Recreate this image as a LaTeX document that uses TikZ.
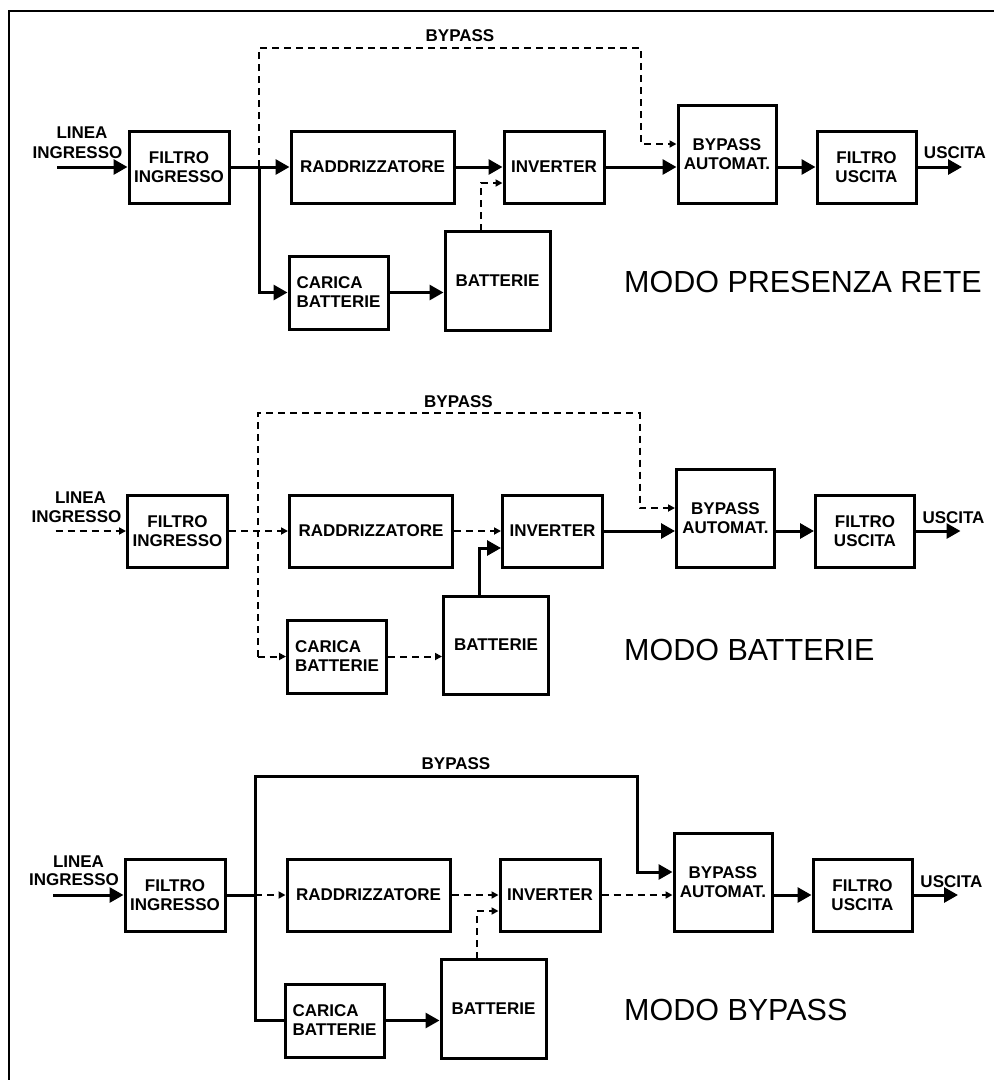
\documentclass[tikz,border=0pt]{standalone}
\usepackage{fontspec}
\setmainfont{Liberation Sans}
\usetikzlibrary{arrows.meta}
\tikzset{
  blk/.style={draw, line width=3pt, inner sep=0pt, align=center,
    font=\fontsize{17}{19}\selectfont\bfseries},
  lbl/.style={inner sep=0pt, font=\fontsize{17}{19}\selectfont\bfseries},
  mode/.style={inner sep=0pt, anchor=west, font=\fontsize{30.5}{34}\selectfont},
  sol/.style={line width=3pt},
  dsh/.style={line width=2pt, dash pattern=on 7pt off 5pt},
  big/.style={-{Triangle[length=14pt,width=15pt]}},
  sml/.style={-{Triangle[length=7pt,width=7pt]}},
}
\begin{document}
\begin{tikzpicture}[x=1pt,y=-1pt]
\useasboundingbox (0,0) rectangle (994,1080);
\draw[line width=2.5pt] (9,1080) -- (9,11) -- (994,11);

% ================= PANEL 1 : MODO PRESENZA RETE =================
\begin{scope}
\node[blk, minimum width=100pt, minimum height=72pt] (fiA) at (179,167) {FILTRO\\INGRESSO};
\node[blk, minimum width=163pt, minimum height=72pt] (rdA) at (372.5,167) {RADDRIZZATORE};
\node[blk, minimum width=100pt, minimum height=72pt] (invA) at (554,167) {INVERTER};
\node[blk, minimum width=98pt, minimum height=98pt] (baA) at (727,154) {BYPASS\\AUTOMAT.};
\node[blk, minimum width=99pt, minimum height=72pt] (fuA) at (866.5,167) {FILTRO\\USCITA};
\node[blk, minimum width=99pt, minimum height=73pt, align=left] (cbA) at (338.5,292.5) {CARICA\\BATTERIE};
\node[blk, minimum width=105pt, minimum height=99pt] (batA) at (497.5,280.5) {BATTERIE};
\node[lbl] (l1A) at (82,133) {LINEA};
\node[lbl] (l2A) at (77.5,153) {INGRESSO};
\node[lbl] (usA) at (955,153) {USCITA};
\node[lbl] (bpA) at (460,36) {BYPASS};
\node[mode] (mA) at (624,282) {MODO PRESENZA RETE};
\coordinate (inA) at (57,167);
\coordinate (outA) at (962,167);
\coordinate (jA) at (259,167);
\coordinate (t1A) at (259,48);
\coordinate (t2A) at (641,48);
\coordinate (t3A) at (641,144);
\coordinate (b1A) at (481,231);
\coordinate (b2A) at (481,183);
\draw[sol,big] (inA) -- (fiA.west);
\draw[sol,big] (fiA.east) -- (rdA.west);
\draw[sol,big] (jA) |- (cbA.west);
\draw[sol,big] (rdA.east) -- (invA.west);
\draw[sol,big] (invA.east) -- (invA.east -| baA.west);
\draw[sol,big] (fuA.west -| baA.east) -- (fuA.west);
\draw[sol,big] (fuA.east) -- (outA);
\draw[sol,big] (cbA.east) -- (cbA.east -| batA.west);
\draw[dsh,sml] (b1A) -- (b2A) -- (b2A -| invA.west);
\draw[dsh,sml] (jA) -- (t1A) -- (t2A) -- (t3A) -- (t3A -| baA.west);
\end{scope}

% ================= PANEL 2 : MODO BATTERIE =================
\begin{scope}[shift={(-1.5,364)}]
\node[blk, minimum width=100pt, minimum height=72pt] (fiB) at (179,167) {FILTRO\\INGRESSO};
\node[blk, minimum width=163pt, minimum height=72pt] (rdB) at (372.5,167) {RADDRIZZATORE};
\node[blk, minimum width=100pt, minimum height=72pt] (invB) at (554,167) {INVERTER};
\node[blk, minimum width=98pt, minimum height=98pt] (baB) at (727,154) {BYPASS\\AUTOMAT.};
\node[blk, minimum width=99pt, minimum height=72pt] (fuB) at (866.5,167) {FILTRO\\USCITA};
\node[blk, minimum width=99pt, minimum height=73pt, align=left] (cbB) at (338.5,292.5) {CARICA\\BATTERIE};
\node[blk, minimum width=105pt, minimum height=98pt] (batB) at (497.5,281) {BATTERIE};
\node[lbl] (l1B) at (82,134) {LINEA};
\node[lbl] (l2B) at (78,153) {INGRESSO};
\node[lbl] (usB) at (955,154) {USCITA};
\node[lbl] (bpB) at (460,38) {BYPASS};
\node[mode] (mB) at (625.5,286) {MODO BATTERIE};
\coordinate (inB) at (57,167);
\coordinate (outB) at (962,167);
\coordinate (jB) at (259,167);
\coordinate (t1B) at (259,49);
\coordinate (t2B) at (641,49);
\coordinate (t3B) at (641,144);
\coordinate (t4B) at (259,292.5);
\coordinate (b1B) at (481,232);
\coordinate (b2B) at (481,184);
\draw[dsh,sml] (inB) -- (fiB.west);
\draw[dsh,sml] (fiB.east) -- (rdB.west);
\draw[dsh,sml] (t4B) -- (cbB.west);
\draw[dsh,sml] (rdB.east) -- (invB.west);
\draw[sol,big] (invB.east) -- (invB.east -| baB.west);
\draw[sol,big] (fuB.west -| baB.east) -- (fuB.west);
\draw[sol,big] (fuB.east) -- (outB);
\draw[dsh,sml] (cbB.east) -- (cbB.east -| batB.west);
\draw[sol,big] (b1B) -- (b2B) -- (b2B -| invB.west);
\draw[dsh,sml] (t4B) -- (t1B) -- (t2B) -- (t3B) -- (t3B -| baB.west);
\end{scope}

% ================= PANEL 3 : MODO BYPASS =================
\begin{scope}[shift={(-4,728)}]
\node[blk, minimum width=100pt, minimum height=72pt] (fiC) at (179,167) {FILTRO\\INGRESSO};
\node[blk, minimum width=163pt, minimum height=72pt] (rdC) at (372.5,167) {RADDRIZZATORE};
\node[blk, minimum width=100pt, minimum height=72pt] (invC) at (554,167) {INVERTER};
\node[blk, minimum width=98pt, minimum height=98pt] (baC) at (727,154) {BYPASS\\AUTOMAT.};
\node[blk, minimum width=99pt, minimum height=72pt] (fuC) at (866.5,167) {FILTRO\\USCITA};
\node[blk, minimum width=99pt, minimum height=73pt, align=left] (cbC) at (338.5,292.5) {CARICA\\BATTERIE};
\node[blk, minimum width=105pt, minimum height=99pt] (batC) at (497.5,280.5) {BATTERIE};
\node[lbl] (l1C) at (82.5,134) {LINEA};
\node[lbl] (l2C) at (78,152) {INGRESSO};
\node[lbl] (usC) at (955.5,154) {USCITA};
\node[lbl] (bpC) at (460,36) {BYPASS};
\node[mode] (mC) at (628,282) {MODO BYPASS};
\coordinate (inC) at (57,167);
\coordinate (outC) at (962,167);
\coordinate (jC) at (259,167);
\coordinate (t1C) at (259,48);
\coordinate (t2C) at (641,48);
\coordinate (t3C) at (641,144);
\coordinate (b1C) at (481,231);
\coordinate (b2C) at (481,183);
\draw[sol,big] (inC) -- (fiC.west);
\draw[sol] (fiC.east) -- (jC);
\draw[dsh,sml] (jC) -- (rdC.west);
\draw[sol] (jC) |- (cbC.west);
\draw[dsh,sml] (rdC.east) -- (invC.west);
\draw[dsh,sml] (invC.east) -- (invC.east -| baC.west);
\draw[sol,big] (fuC.west -| baC.east) -- (fuC.west);
\draw[sol,big] (fuC.east) -- (outC);
\draw[sol,big] (cbC.east) -- (cbC.east -| batC.west);
\draw[dsh,sml] (b1C) -- (b2C) -- (b2C -| invC.west);
\draw[sol,big,line join=miter] (jC) -- (t1C) -- (t2C) -- (t3C) -- (t3C -| baC.west);
\end{scope}
\end{tikzpicture}
\end{document}
